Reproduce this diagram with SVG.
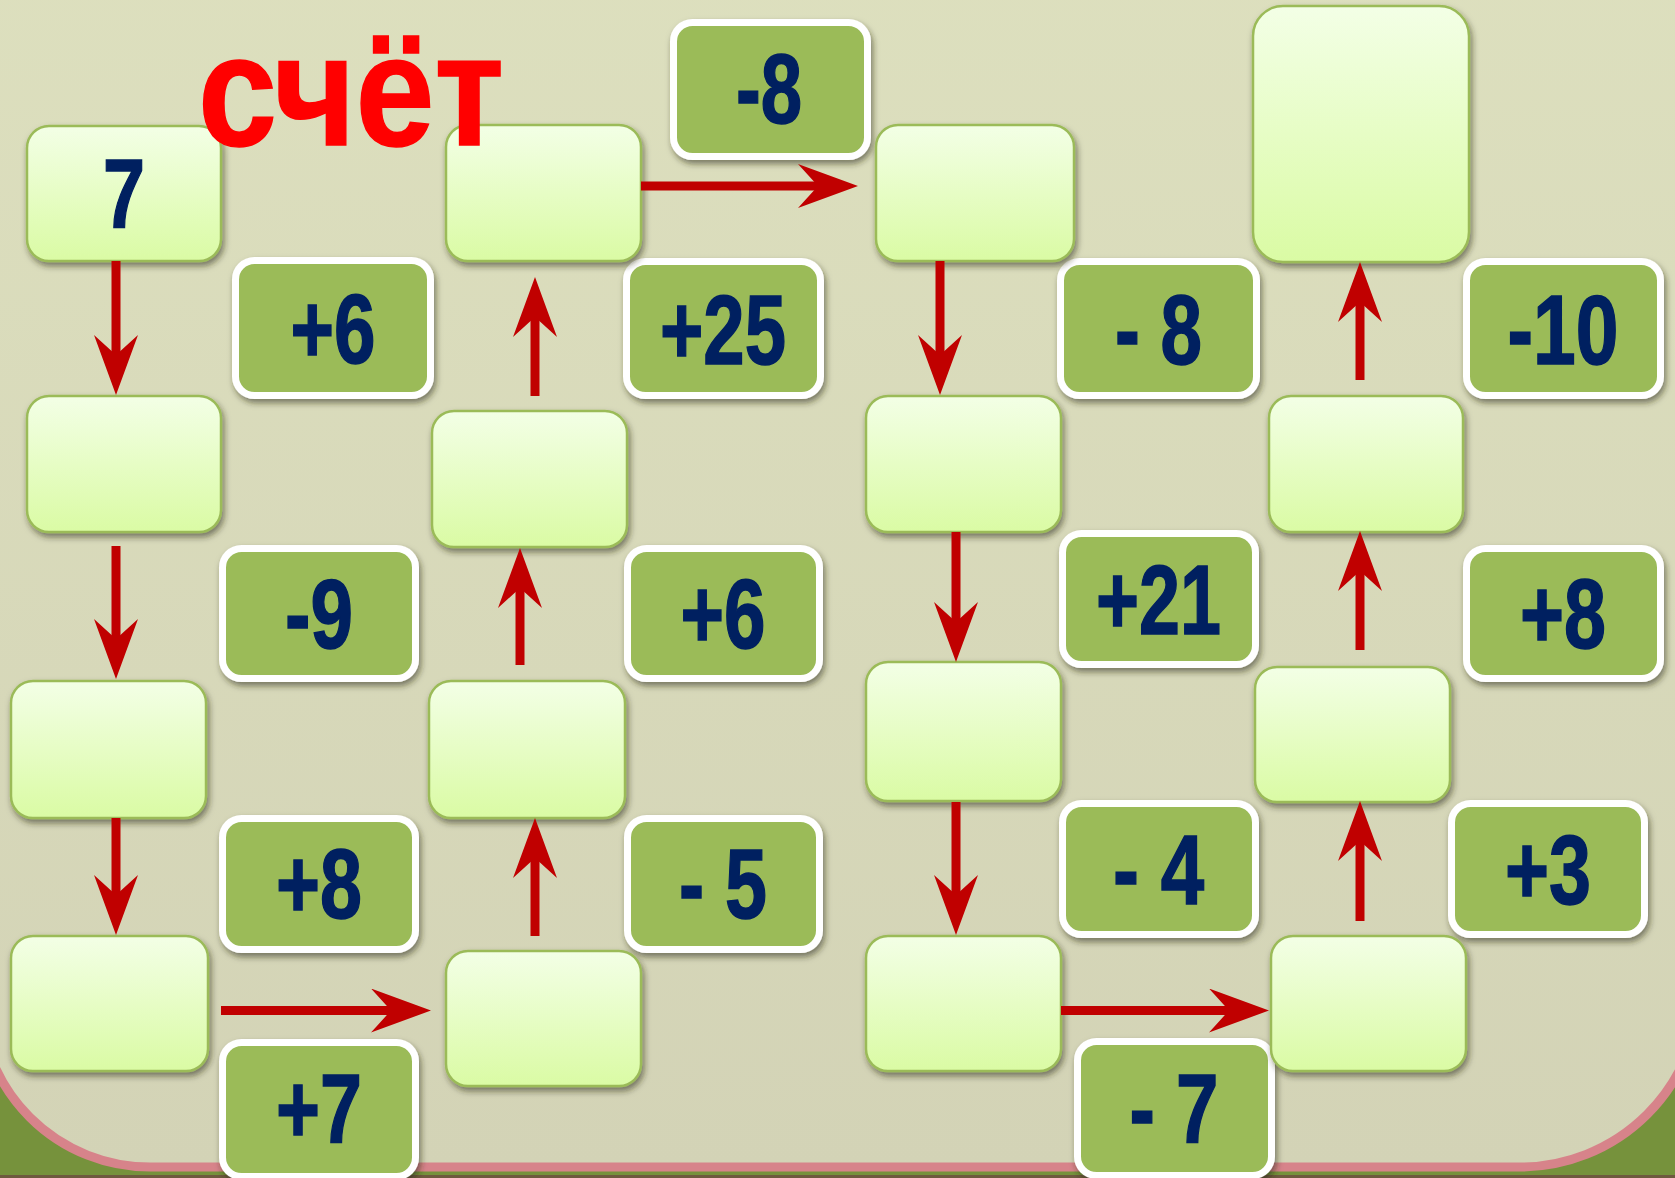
<svg xmlns="http://www.w3.org/2000/svg" width="1675" height="1178" viewBox="0 0 1675 1178">
<defs>
<linearGradient id="bg" x1="0" y1="0" x2="0" y2="1">
<stop offset="0" stop-color="#dee1bf"/>
<stop offset="1" stop-color="#d3d3b6"/>
</linearGradient>
<linearGradient id="nodeFill" x1="0" y1="0" x2="0" y2="1">
<stop offset="0" stop-color="#f3ffe6"/>
<stop offset="1" stop-color="#dafba4"/>
</linearGradient>
<filter id="sh" x="-10%" y="-10%" width="125%" height="130%">
<feDropShadow dx="2" dy="4" stdDeviation="3" flood-color="#2a2a10" flood-opacity="0.55"/>
</filter>
<marker id="ah" markerUnits="userSpaceOnUse" markerWidth="60" markerHeight="44" viewBox="0 -22 60 44" refX="22" refY="0" orient="auto">
<path d="M0,-22 L60,0 L0,22 L20,0 Z" fill="#c00000"/>
</marker>
<style>
.node{fill:url(#nodeFill);stroke:#9bbb59;stroke-width:2.5;filter:url(#sh)}
.op{fill:#9bbb59;stroke:#ffffff;stroke-width:7;filter:url(#sh)}
.num{font-family:"Liberation Sans",Arial,sans-serif;font-weight:bold;font-size:98px;fill:#002060;stroke:#002060;stroke-width:1.5;text-anchor:middle}
.arr{stroke:#c00000;stroke-width:9;fill:none;marker-end:url(#ah)}
.title{font-family:"Liberation Sans",Arial,sans-serif;font-weight:bold;font-size:158px;fill:#ff0000;stroke:#ff0000;stroke-width:1.5}
</style>
</defs>
<g id="background">
<rect x="0" y="0" width="1675" height="1178" fill="#76923c"/>
<path d="M-20,-200 H1700 V987 A180,180 0 0 1 1520,1167 H150 A170,170 0 0 1 -20,997 Z" fill="url(#bg)" stroke="#d7838a" stroke-width="9"/>
<rect x="0" y="1175" width="1675" height="3" fill="#6e5a3e"/>
</g>
<g id="operations">
<g id="op-m8-top"><rect class="op" x="673.5" y="22.5" width="194" height="134" rx="19"/><text class="num" x="769" y="123" textLength="66" lengthAdjust="spacingAndGlyphs">-8</text></g>
<g id="op-p6-a"><rect class="op" x="235.5" y="260.5" width="195" height="135" rx="19"/><text class="num" x="333" y="363" textLength="85" lengthAdjust="spacingAndGlyphs">+6</text></g>
<g id="op-p25"><rect class="op" x="626.5" y="261.5" width="194" height="134" rx="19"/><text class="num" x="723" y="364" textLength="126" lengthAdjust="spacingAndGlyphs">+25</text></g>
<g id="op-m8"><rect class="op" x="1060.5" y="261.5" width="196" height="134" rx="19"/><text class="num" x="1158.5" y="364" textLength="87" lengthAdjust="spacingAndGlyphs">- 8</text></g>
<g id="op-m10"><rect class="op" x="1466.5" y="261.5" width="194" height="134" rx="19"/><text class="num" x="1563" y="364" textLength="111" lengthAdjust="spacingAndGlyphs">-10</text></g>
<g id="op-m9"><rect class="op" x="222.5" y="548.5" width="193" height="130" rx="19"/><text class="num" x="319" y="648" textLength="68" lengthAdjust="spacingAndGlyphs">-9</text></g>
<g id="op-p6-b"><rect class="op" x="627.5" y="548.5" width="192" height="130" rx="19"/><text class="num" x="723" y="648" textLength="85" lengthAdjust="spacingAndGlyphs">+6</text></g>
<g id="op-p21"><rect class="op" x="1062.5" y="533.5" width="193" height="131" rx="19"/><text class="num" x="1158.5" y="634" textLength="125" lengthAdjust="spacingAndGlyphs">+21</text></g>
<g id="op-p8-r"><rect class="op" x="1466.5" y="548.5" width="194" height="130" rx="19"/><text class="num" x="1563" y="648" textLength="86" lengthAdjust="spacingAndGlyphs">+8</text></g>
<g id="op-p8-l"><rect class="op" x="222.5" y="818.5" width="193" height="131" rx="19"/><text class="num" x="319" y="918" textLength="86" lengthAdjust="spacingAndGlyphs">+8</text></g>
<g id="op-m5"><rect class="op" x="627.5" y="818.5" width="192" height="131" rx="19"/><text class="num" x="723" y="918" textLength="88" lengthAdjust="spacingAndGlyphs">- 5</text></g>
<g id="op-m4"><rect class="op" x="1062.5" y="803.5" width="193" height="131" rx="19"/><text class="num" x="1158.5" y="904" textLength="91" lengthAdjust="spacingAndGlyphs">- 4</text></g>
<g id="op-p3"><rect class="op" x="1451.5" y="803.5" width="193" height="131" rx="19"/><text class="num" x="1548" y="904" textLength="86" lengthAdjust="spacingAndGlyphs">+3</text></g>
<g id="op-p7"><rect class="op" x="222.5" y="1042.5" width="193" height="134" rx="19"/><text class="num" x="319" y="1143" textLength="86" lengthAdjust="spacingAndGlyphs">+7</text></g>
<g id="op-m7"><rect class="op" x="1077.5" y="1041.5" width="194" height="134" rx="19"/><text class="num" x="1174" y="1143" textLength="89" lengthAdjust="spacingAndGlyphs">- 7</text></g>
</g>
<g id="nodes">
<g id="n1"><rect class="node" x="27" y="126" width="194" height="135" rx="22"/><text class="num" x="124" y="228" textLength="42" lengthAdjust="spacingAndGlyphs">7</text></g>
<g id="n2"><rect class="node" x="446" y="125" width="195" height="136" rx="22"/></g>
<g id="n3"><rect class="node" x="876" y="125" width="198" height="136" rx="22"/></g>
<g id="n4"><rect class="node" x="1253" y="6" width="216" height="256" rx="30"/></g>
<g id="n5"><rect class="node" x="27" y="396" width="194" height="136" rx="22"/></g>
<g id="n6"><rect class="node" x="432" y="411" width="195" height="136" rx="22"/></g>
<g id="n7"><rect class="node" x="866" y="396" width="195" height="136" rx="22"/></g>
<g id="n8"><rect class="node" x="1269" y="396" width="194" height="136" rx="22"/></g>
<g id="n9"><rect class="node" x="11" y="681" width="195" height="137" rx="22"/></g>
<g id="n10"><rect class="node" x="429" y="681" width="196" height="137" rx="22"/></g>
<g id="n11"><rect class="node" x="866" y="662" width="195" height="139" rx="22"/></g>
<g id="n12"><rect class="node" x="1255" y="667" width="195" height="135" rx="22"/></g>
<g id="n13"><rect class="node" x="11" y="936" width="197" height="135" rx="22"/></g>
<g id="n14"><rect class="node" x="446" y="951" width="195" height="135" rx="22"/></g>
<g id="n15"><rect class="node" x="866" y="936" width="195" height="135" rx="22"/></g>
<g id="n16"><rect class="node" x="1271" y="936" width="195" height="135" rx="22"/></g>
</g>
<g id="connectors">
<line class="arr" x1="116" y1="261" x2="116" y2="357"/>
<line class="arr" x1="116" y1="546" x2="116" y2="641"/>
<line class="arr" x1="116" y1="818" x2="116" y2="897"/>
<line class="arr" x1="221" y1="1010.5" x2="393" y2="1010.5"/>
<line class="arr" x1="535" y1="936" x2="535" y2="856"/>
<line class="arr" x1="520" y1="665" x2="520" y2="586"/>
<line class="arr" x1="535" y1="396" x2="535" y2="315"/>
<line class="arr" x1="641" y1="186" x2="820" y2="186"/>
<line class="arr" x1="940" y1="261" x2="940" y2="357"/>
<line class="arr" x1="956" y1="532" x2="956" y2="624"/>
<line class="arr" x1="956" y1="802" x2="956" y2="897"/>
<line class="arr" x1="1061" y1="1010.5" x2="1231" y2="1010.5"/>
<line class="arr" x1="1360" y1="921" x2="1360" y2="839"/>
<line class="arr" x1="1360" y1="650" x2="1360" y2="569"/>
<line class="arr" x1="1360" y1="380" x2="1360" y2="300"/>
</g>
<g id="title">
<text class="title" x="198" y="145" textLength="306" lengthAdjust="spacingAndGlyphs">счёт</text>
</g>
</svg>
